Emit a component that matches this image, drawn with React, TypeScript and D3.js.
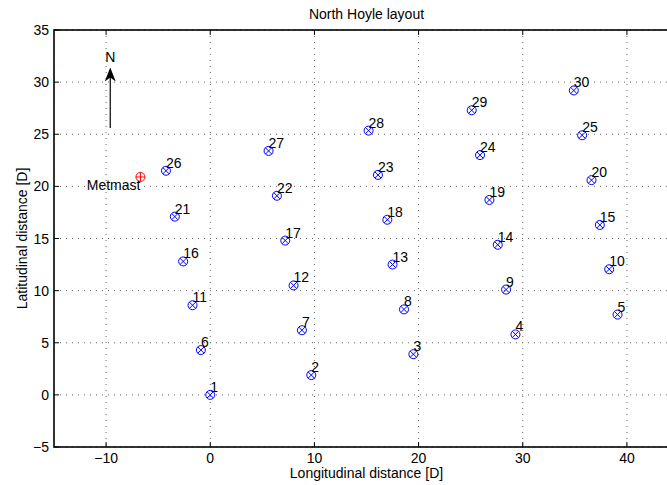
import React, { useEffect, useRef } from 'react';
import * as d3 from 'd3';

// turbine positions, in rotor diameters
const turbineIds = [1, 2, 3, 4, 5, 6, 7, 8, 9, 10, 11, 12, 13, 14, 15, 16, 17, 18, 19, 20, 21, 22, 23, 24, 25, 26, 27, 28, 29, 30];
const turbineX = [0, 9.7, 19.5, 29.3, 39.1, -0.9, 8.8, 18.6, 28.4, 38.3, -1.7, 8.0, 17.5, 27.6, 37.4, -2.6, 7.2, 17.0, 26.8, 36.6, -3.4, 6.4, 16.1, 25.9, 35.7, -4.25, 5.6, 15.2, 25.1, 34.9];
const turbineY = [0, 1.9, 3.9, 5.8, 7.7, 4.3, 6.2, 8.2, 10.1, 12.05, 8.6, 10.5, 12.5, 14.4, 16.3, 12.8, 14.8, 16.8, 18.7, 20.6, 17.1, 19.1, 21.1, 23.0, 24.9, 21.5, 23.4, 25.35, 27.3, 29.2];

const metmastX = [-6.7];
const metmastY = [20.9];
const metmastLabel = ['Metmast'];

// north arrow
const arrowX = -9.6;
const arrowFrom = 25.6;
const arrowTo = 31.4;

const xTicks = [-10, 0, 10, 20, 30, 40];
const yTicks = [-5, 0, 5, 10, 15, 20, 25, 30, 35];
const xDomain = [-15, 45];
const yDomain = [-5, 35];

const FONT = '"Liberation Sans", Arial, Helvetica, sans-serif';
const FS = 14;

export default function App() {
    const ref = useRef<SVGSVGElement>(null);

    useEffect(() => {
        let svgWidth = 667, svgHeight = 485;
        let pad = { top: 30, left: 54 };
        let plotW = 625, plotH = 417;

        let svg = d3.select(ref.current)
            .attr('width', svgWidth)
            .attr('height', svgHeight);
        svg.selectAll('*').remove();

        let g = svg.append('g')
            .attr('transform', 'translate(' + pad.left + ',' + pad.top + ')');

        let x = d3.scaleLinear().domain(xDomain).range([0, plotW]);
        let y = d3.scaleLinear().domain(yDomain).range([plotH, 0]);

        // dotted grid
        g.append('g').selectAll('line')
            .data(xTicks)
            .enter().append('line')
            .attr('x1', d => x(d)).attr('x2', d => x(d))
            .attr('y1', 0).attr('y2', plotH)
            .attr('stroke', '#666').attr('stroke-width', 1)
            .attr('stroke-dasharray', '1,5');
        g.append('g').selectAll('line')
            .data(yTicks)
            .enter().append('line')
            .attr('x1', 0).attr('x2', plotW)
            .attr('y1', d => y(d)).attr('y2', d => y(d))
            .attr('stroke', '#666').attr('stroke-width', 1)
            .attr('stroke-dasharray', '1,5');

        // inward ticks on all sides
        let tickLen = 5;
        let ticks = g.append('g').attr('stroke', '#000').attr('stroke-width', 1);
        xTicks.forEach(t => {
            ticks.append('line').attr('x1', x(t)).attr('x2', x(t)).attr('y1', plotH).attr('y2', plotH - tickLen);
            ticks.append('line').attr('x1', x(t)).attr('x2', x(t)).attr('y1', 0).attr('y2', tickLen);
        });
        yTicks.forEach(t => {
            ticks.append('line').attr('x1', 0).attr('x2', tickLen).attr('y1', y(t)).attr('y2', y(t));
            ticks.append('line').attr('x1', plotW).attr('x2', plotW - tickLen).attr('y1', y(t)).attr('y2', y(t));
        });

        // box
        g.append('rect')
            .attr('width', plotW).attr('height', plotH)
            .attr('fill', 'none').attr('stroke', '#000').attr('stroke-width', 1.6);

        // tick labels
        g.append('g').selectAll('text')
            .data(xTicks)
            .enter().append('text')
            .attr('x', d => x(d)).attr('y', plotH + 16)
            .attr('text-anchor', 'middle')
            .attr('font-family', FONT).attr('font-size', FS)
            .text(d => d < 0 ? '\u2212' + Math.abs(d) : String(d));
        g.append('g').selectAll('text')
            .data(yTicks)
            .enter().append('text')
            .attr('x', -5).attr('y', d => y(d) + 5)
            .attr('text-anchor', 'end')
            .attr('font-family', FONT).attr('font-size', FS)
            .text(d => d < 0 ? '\u2212' + Math.abs(d) : String(d));

        // titles
        svg.append('text')
            .attr('x', pad.left + plotW / 2).attr('y', 19)
            .attr('text-anchor', 'middle')
            .attr('font-family', FONT).attr('font-size', FS)
            .text('North Hoyle layout');
        svg.append('text')
            .attr('x', pad.left + plotW / 2).attr('y', 478)
            .attr('text-anchor', 'middle')
            .attr('font-family', FONT).attr('font-size', FS)
            .text('Longitudinal distance [D]');
        svg.append('text')
            .attr('transform', 'translate(27,' + (pad.top + plotH / 2) + ') rotate(-90)')
            .attr('text-anchor', 'middle')
            .attr('font-family', FONT).attr('font-size', FS)
            .text('Latitudinal distance [D]');

        // turbines: circle with a cross
        let r = 4.5, k = r * 0.7071;
        let turb = g.append('g').selectAll('g')
            .data(turbineIds)
            .enter().append('g')
            .attr('transform', (d, i) => 'translate(' + x(turbineX[i]) + ',' + y(turbineY[i]) + ')');
        turb.append('circle').attr('r', r).attr('fill', 'none').attr('stroke', '#0000ff').attr('stroke-width', 1);
        turb.append('path')
            .attr('d', 'M' + (-k) + ',' + (-k) + 'L' + k + ',' + k + 'M' + k + ',' + (-k) + 'L' + (-k) + ',' + k)
            .attr('stroke', '#0000ff').attr('stroke-width', 1);
        turb.append('text')
            .attr('x', 0).attr('y', -3)
            .attr('font-family', FONT).attr('font-size', FS)
            .text(d => String(d));

        // metmast: circle with a plus
        let mm = g.append('g').selectAll('g')
            .data(metmastLabel)
            .enter().append('g')
            .attr('transform', (d, i) => 'translate(' + x(metmastX[i]) + ',' + y(metmastY[i]) + ')');
        mm.append('circle').attr('r', r).attr('fill', 'none').attr('stroke', '#ff0000').attr('stroke-width', 1);
        mm.append('path')
            .attr('d', 'M' + (-r) + ',0L' + r + ',0M0,' + (-r) + 'L0,' + r)
            .attr('stroke', '#ff0000').attr('stroke-width', 1);
        mm.append('text')
            .attr('x', 0).attr('y', 13)
            .attr('text-anchor', 'end')
            .attr('font-family', FONT).attr('font-size', FS)
            .text(d => d);

        // north arrow
        let ax = x(arrowX), ay0 = y(arrowFrom), ay1 = y(arrowTo);
        g.append('line')
            .attr('x1', ax).attr('x2', ax).attr('y1', ay0).attr('y2', ay1 + 8)
            .attr('stroke', '#000').attr('stroke-width', 1.2);
        g.append('path')
            .attr('d', 'M' + ax + ',' + ay1 + 'L' + (ax + 5.5) + ',' + (ay1 + 14) + 'L' + ax + ',' + (ay1 + 10) + 'L' + (ax - 5.5) + ',' + (ay1 + 14) + 'Z')
            .attr('fill', '#000');
        g.append('text')
            .attr('x', ax).attr('y', ay1 - 6)
            .attr('text-anchor', 'middle')
            .attr('font-family', FONT).attr('font-size', FS)
            .text('N');
    }, []);

    return (
        <div>
            <svg ref={ref} style={{ position: 'absolute', left: 0, top: 0, background: '#fff' }}></svg>
        </div>
    );
}
